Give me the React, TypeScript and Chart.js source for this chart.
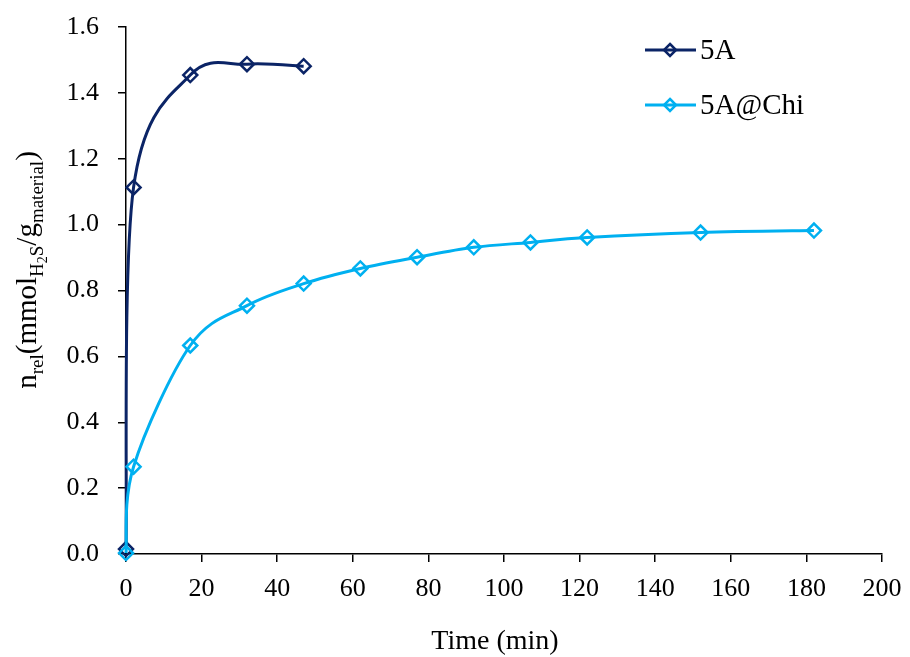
import React, { useEffect, useRef } from 'react';
import { Chart, registerables } from 'chart.js';

Chart.register(...registerables);

// Adsorbed H2S per gram of material versus time
const seriesNames = ['5A', '5A@Chi'];
const seriesColors = ['#0B2466', '#00B0F0'];
const time5A = [0, 2, 17, 32, 47];
const nrel5A = [0.015, 1.113, 1.454, 1.487, 1.481];
const time5AChi = [0, 2, 17, 32, 47, 62, 77, 92, 107, 122, 152, 182];
const nrel5AChi = [0.003, 0.265, 0.633, 0.754, 0.821, 0.867, 0.901, 0.931, 0.946, 0.961, 0.976, 0.982];
const xRange = [0, 200];
const xStep = 20;
const yRange = [0, 1.6];
const yStep = 0.2;
const xTitle = 'Time (min)';
// y title pieces: [text, subscript level]
const yTitleParts: [string, number][] = [
  ['n', 0],
  ['rel', 1],
  ['(mmol', 0],
  ['H', 1],
  ['2', 2],
  ['S', 1],
  ['/g', 0],
  ['material', 1],
  [')', 0],
];

const FONT = '"Liberation Serif", "Times New Roman", serif';
const levelFont = [`29px ${FONT}`, `19px ${FONT}`, `14px ${FONT}`];
const levelShift = [0, 7, 11];

// Smoothed line in the style of spreadsheet charts: each control point sits
// one sixth of the neighbour-to-neighbour chord away from its point.
const smoothPlugin = {
  id: 'chordSmoothing',
  beforeDatasetDraw(chart: any, args: any) {
    const meta = chart.getDatasetMeta(args.index);
    const line = meta.dataset;
    if (!line) return;
    line.updateControlPoints(chart.chartArea, 'x');
    const pts = meta.data;
    const n = pts.length;
    for (let i = 0; i < n; i++) {
      const p = pts[i];
      const prev = pts[Math.max(0, i - 1)];
      const next = pts[Math.min(n - 1, i + 1)];
      const dx = (next.x - prev.x) / 6;
      const dy = (next.y - prev.y) / 6;
      p.cp1x = p.x - dx;
      p.cp1y = p.y - dy;
      p.cp2x = p.x + dx;
      p.cp2y = p.y + dy;
    }
    line._path = undefined;
  },
};

const textPlugin = {
  id: 'titlesAndLegend',
  afterDraw(chart: any) {
    const ctx = chart.ctx as CanvasRenderingContext2D;
    ctx.save();
    ctx.fillStyle = '#000';

    // x axis title
    ctx.font = `28px ${FONT}`;
    ctx.textAlign = 'center';
    ctx.textBaseline = 'alphabetic';
    ctx.fillText(xTitle, 495, 649);

    // y axis title with subscripts, rotated
    let total = 0;
    const widths = yTitleParts.map(([t, lvl]) => {
      ctx.font = levelFont[lvl];
      const w = ctx.measureText(t).width;
      total += w;
      return w;
    });
    const centerY = 270;
    ctx.translate(36, centerY + total / 2);
    ctx.rotate(-Math.PI / 2);
    ctx.textAlign = 'left';
    let pos = 0;
    yTitleParts.forEach(([t, lvl], i) => {
      ctx.font = levelFont[lvl];
      ctx.fillText(t, pos, levelShift[lvl]);
      pos += widths[i];
    });
    ctx.restore();

    // legend
    ctx.save();
    const rows = [50, 105];
    chart.data.datasets.forEach((ds: any, i: number) => {
      const y = rows[i];
      ctx.strokeStyle = ds.borderColor;
      ctx.lineWidth = 3;
      ctx.beginPath();
      ctx.moveTo(645, y);
      ctx.lineTo(696, y);
      ctx.stroke();
      const r = 6;
      ctx.lineWidth = 2.5;
      ctx.beginPath();
      ctx.moveTo(670, y - r);
      ctx.lineTo(670 + r, y);
      ctx.lineTo(670, y + r);
      ctx.lineTo(670 - r, y);
      ctx.closePath();
      ctx.stroke();
      ctx.fillStyle = '#000';
      ctx.font = `29px ${FONT}`;
      ctx.textAlign = 'left';
      ctx.textBaseline = 'middle';
      ctx.fillText(ds.label, 700, y + 1);
    });
    ctx.restore();
  },
};

export default function App() {
  const canvasRef = useRef<HTMLCanvasElement | null>(null);

  useEffect(() => {
    document.body.style.margin = '0';
    const canvas = canvasRef.current;
    if (!canvas) return;

    const makeSeries = (xs: number[], ys: number[]) => xs.map((x, i) => ({ x, y: ys[i] }));
    const seriesStyle = (color: string) => ({
      borderColor: color,
      backgroundColor: 'rgba(0,0,0,0)',
      borderWidth: 3,
      pointStyle: 'rectRot' as const,
      pointRadius: 7,
      pointBorderWidth: 2.5,
      pointBackgroundColor: 'rgba(0,0,0,0)',
      tension: 0.4,
      clip: false as const,
    });

    const axisGrid = {
      display: true,
      drawOnChartArea: false,
      drawTicks: true,
      tickLength: 8,
      color: '#000',
      lineWidth: 1.5,
    };

    const chart = new Chart(canvas, {
      type: 'line',
      data: {
        datasets: [
          { label: seriesNames[0], data: makeSeries(time5A, nrel5A), ...seriesStyle(seriesColors[0]), order: 1 },
          { label: seriesNames[1], data: makeSeries(time5AChi, nrel5AChi), ...seriesStyle(seriesColors[1]), order: 0 },
        ],
      },
      options: {
        responsive: false,
        animation: false,
        devicePixelRatio: 1,
        layout: { padding: { top: 27, right: 28, left: 0, bottom: 0 } },
        plugins: {
          legend: { display: false },
          tooltip: { enabled: false },
        },
        scales: {
          x: {
            type: 'linear',
            min: xRange[0],
            max: xRange[1],
            ticks: {
              stepSize: xStep,
              color: '#000',
              padding: 12,
              font: { family: FONT, size: 26 },
              maxRotation: 0,
            },
            grid: axisGrid,
            border: { display: true, color: '#000', width: 1.5 },
            afterFit: (scale: any) => {
              scale.height = 103;
              scale.paddingLeft = 0;
              scale.paddingRight = 0;
            },
          },
          y: {
            type: 'linear',
            min: yRange[0],
            max: yRange[1],
            ticks: {
              stepSize: yStep,
              color: '#000',
              padding: 19,
              font: { family: FONT, size: 26 },
              callback: (v: any) => Number(v).toFixed(1),
            },
            grid: axisGrid,
            border: { display: true, color: '#000', width: 1.5 },
            afterFit: (scale: any) => {
              scale.width = 126;
              scale.paddingTop = 0;
              scale.paddingBottom = 0;
            },
          },
        },
      },
      plugins: [smoothPlugin, textPlugin],
    });

    return () => chart.destroy();
  }, []);

  return (
    <div style={{ position: 'absolute', left: 0, top: 0, width: 910, height: 657, background: '#fff' }}>
      <canvas ref={canvasRef} width={910} height={657} />
    </div>
  );
}
